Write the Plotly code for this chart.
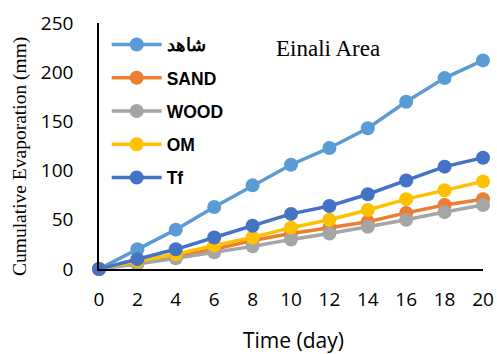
import plotly.graph_objects as go

days = [0, 2, 4, 6, 8, 10, 12, 14, 16, 18, 20]
control = [0, 20, 40, 63, 85, 106, 123, 143, 170, 194, 212]
sand = [0, 7, 13, 20, 29, 36, 42, 48, 57, 65, 71]
wood = [0, 5, 11, 17, 23, 30, 36, 43, 50, 58, 65]
om = [0, 8, 15, 24, 32, 42, 50, 60, 71, 80, 89]
tf = [0, 10, 20, 32, 44, 56, 64, 76, 90, 104, 113]

names = ["شاهد", "SAND", "WOOD", "OM", "Tf"]
colors = ["#5B9BD5", "#ED7D31", "#A5A5A5", "#FFC000", "#4472C4"]
series = [control, sand, wood, om, tf]

W, H = 497, 354
L, R, T, B = 99, 14, 23, 85
pw, ph = W - L - R, H - T - B

fig = go.Figure()
for i, (n, c, s) in enumerate(zip(names, colors, series)):
    fig.add_trace(go.Scatter(
        x=days, y=s, name=n, mode="lines+markers",
        line=dict(color=c, width=3.5),
        marker=dict(color=c, size=14),
        legendgroup=str(i), cliponaxis=False,
    ))

fig.update_layout(
    width=W, height=H,
    margin=dict(l=L, r=R, t=T, b=B),
    paper_bgcolor="white", plot_bgcolor="white",
    showlegend=True,
    legend=dict(
        x=0.02, y=0.985, xanchor="left", yanchor="top",
        font=dict(family="Liberation Sans, Arial", size=17.5, color="black", weight="bold"),
        bgcolor="rgba(0,0,0,0)", tracegroupgap=7.5, itemwidth=50,
    ),
    xaxis=dict(
        range=[0, 20], tickvals=days, showgrid=False, zeroline=False, automargin=False,
        showline=True, linecolor="black", linewidth=1.5, ticks="", ticklabelstandoff=12,
        tickfont=dict(family="Open Sans, Liberation Sans", size=19, color="black"),
    ),
    yaxis=dict(
        range=[0, 250], tickvals=[0, 50, 100, 150, 200, 250], showgrid=False, zeroline=False,
        automargin=False,
        showline=True, linecolor="black", linewidth=1.5, ticks="", ticklabelstandoff=20,
        tickfont=dict(family="Open Sans, Liberation Sans", size=19, color="black"),
    ),
    annotations=[
        dict(text="Einali Area", x=(328 - L) / pw, y=(H - B - 48) / ph,
             xref="paper", yref="paper", xanchor="center", yanchor="middle", showarrow=False,
             font=dict(family="Liberation Serif, Times New Roman", size=23, color="black")),
        dict(text="Time (day)", x=(293 - L) / pw, y=(H - B - 340) / ph,
             xref="paper", yref="paper", xanchor="center", yanchor="middle",
             showarrow=False, font=dict(family="Open Sans, Liberation Sans", size=21, color="black")),
        dict(text="Cumulative Evaporation (mm)", x=(20 - L) / pw, y=(H - B - 157) / ph,
             xref="paper", yref="paper", xanchor="center", yanchor="middle", textangle=-90,
             showarrow=False, font=dict(family="Liberation Serif, Times New Roman", size=19.5, color="black")),
    ],
)

fig.write_html("out.html", config={"displayModeBar": False},
               post_script="document.body.style.margin='0';")
